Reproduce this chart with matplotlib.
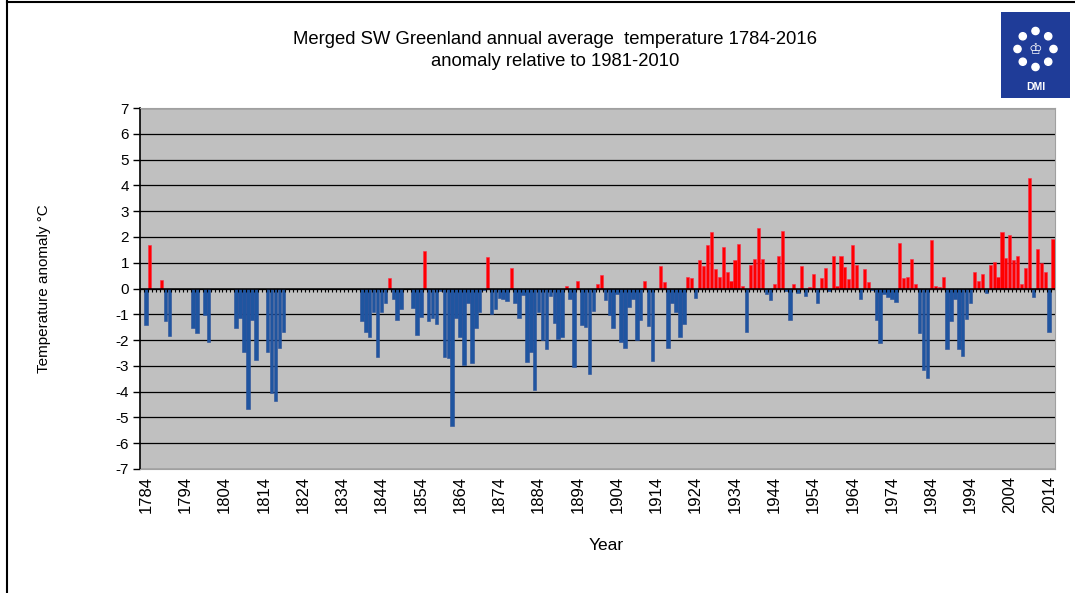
import numpy as np
import matplotlib
matplotlib.use('Agg')
import matplotlib.pyplot as plt
import matplotlib.transforms as mtransforms
from matplotlib.patches import Circle
from matplotlib.lines import Line2D

plt.rcParams['font.family'] = ['Liberation Sans', 'DejaVu Sans']
plt.rcParams['axes.unicode_minus'] = False

nan = np.nan

# annual temperature anomaly (deg C); nan = no data
anom_1784_1820 = [nan, -1.40, 1.68, nan, nan, 0.32, -1.26, -1.85, nan, nan,
                  nan, nan, nan, -1.52, -1.74, nan, -1.03, -2.06, nan, nan,
                  nan, nan, nan, nan, -1.52, -1.16, -2.48, -4.68, -1.23, -2.77,
                  nan, nan, -2.48, -4.06, -4.35, -2.30, -1.68]
anom_1821_1839 = [nan, nan, nan, nan, nan, nan, nan, nan, nan, nan,
                  nan, nan, nan, nan, nan, nan, nan, nan, nan]
anom_1840_1899 = [-1.26, -1.68, -1.90, -0.90, -2.65, -0.90, -0.58, 0.41, -0.39, -1.23,
                  -0.80, nan, nan, -0.75, -1.80, -1.10, 1.45, -1.26, -1.16, -1.39,
                  -0.10, -2.65, -2.70, -5.35, -1.13, -1.87, -2.97, -0.58, -2.90, -1.55,
                  -0.90, -0.05, 1.21, -1.00, -0.80, -0.36, -0.39, -0.49, 0.80, -0.58,
                  -1.16, -0.26, -2.84, -2.45, -3.94, -0.90, -2.00, -2.35, -0.30, -1.35,
                  -1.94, -1.87, 0.09, -0.39, -3.03, 0.31, -1.42, -1.48, -3.33, -0.86]
anom_1900_1949 = [0.19, 0.54, -0.45, -1.03, -1.55, -0.23, -2.06, -2.30, -0.71, -0.39,
                  -2.00, -1.23, 0.31, -1.45, -2.81, nan, 0.88, 0.26, -2.32, -0.58,
                  -0.90, -1.87, -1.39, 0.45, 0.41, -0.36, 1.10, 0.88, 1.68, 2.19,
                  0.75, 0.45, 1.61, 0.65, 0.28, 1.10, 1.74, 0.10, -1.68, 0.93,
                  1.14, 2.35, 1.14, -0.23, -0.45, 0.19, 1.26, 2.23, -0.10, -1.23]
anom_1950_2016 = [0.19, -0.19, 0.88, -0.28, 0.05, 0.58, -0.58, 0.41, 0.80, -0.10,
                  1.26, 0.10, 1.26, 0.84, 0.36, 1.68, 0.93, -0.41, 0.75, 0.26,
                  -0.05, -1.23, -2.13, -0.23, -0.32, -0.40, -0.52, 1.78, 0.41, 0.45,
                  1.16, 0.19, -1.74, -3.16, -3.48, 1.87, 0.10, 0.05, 0.45, -2.35,
                  -1.26, -0.39, -2.35, -2.62, -1.19, -0.58, 0.65, 0.28, 0.58, -0.19,
                  0.90, 1.03, 0.45, 2.19, 1.19, 2.09, 1.10, 1.26, 0.19, 0.80,
                  4.28, -0.32, 1.55, 0.99, 0.65, -1.68, 1.91]

years = np.arange(1784, 2017)
anom = np.array(anom_1784_1820 + anom_1821_1839 + anom_1840_1899
                + anom_1900_1949 + anom_1950_2016)

label_years = np.arange(1784, 2015, 10)

# figure
W, H = 1075, 593
fig = plt.figure(figsize=(W / 100, H / 100), dpi=100)
ax = fig.add_axes([140 / W, 1 - 469 / H, 915 / W, 361 / H])
ax.set_facecolor('#c0c0c0')

ok = ~np.isnan(anom)
pos = ok & (anom >= 0)
neg = ok & (anom < 0)
ax.bar(years[pos], anom[pos], width=0.8, color='#ff0000', edgecolor='#ff2a4a',
       linewidth=0.4, zorder=2)
ax.bar(years[neg], anom[neg], width=0.9, color='#1f55a0', edgecolor='#2a4f9a',
       linewidth=0.4, zorder=2)

# zero line with yearly tick marks
ax.axhline(0, color='black', lw=1.1, zorder=3)
ax.vlines(np.arange(1783.5, 2017), -0.12, 0, color='black', lw=0.8, zorder=3)

ax.set_xlim(1783.5, 2016.5)
ax.set_ylim(-7, 7)
ax.set_yticks(range(-7, 8))
ax.yaxis.grid(True, color='black', lw=0.9, zorder=1)
ax.set_axisbelow(True)
ax.tick_params(axis='y', direction='out', length=5, width=1, labelsize=11, pad=3)

ax.set_xticks(label_years)
ax.set_xticklabels([str(y) for y in label_years], rotation=90, fontsize=12)
ax.tick_params(axis='x', length=0, pad=5)
shift = mtransforms.ScaledTranslation(4 / 100, 0, fig.dpi_scale_trans)
for lab in ax.get_xticklabels():
    lab.set_transform(lab.get_transform() + shift)

for s in ['top', 'right', 'bottom']:
    ax.spines[s].set_color('#a0a0a0')
ax.spines['left'].set_color('black')
ax.spines['left'].set_linewidth(1.2)

ax.set_ylabel('Temperature anomaly °C', fontsize=11)
ax.yaxis.set_label_coords(-0.097, 0.5)
ax.set_xlabel('Year', fontsize=12.5)
ax.xaxis.set_label_coords(0.51, -0.19)

fig.text(555 / W, 1 - 40 / H, 'Merged SW Greenland annual average  temperature 1784-2016',
         ha='center', va='center', fontsize=13.3)
fig.text(555 / W, 1 - 62 / H, 'anomaly relative to 1981-2010',
         ha='center', va='center', fontsize=13.3)

# outer frame (left and top)
fig.add_artist(Line2D([7 / W, 7 / W], [0, 1 - 1 / H], transform=fig.transFigure,
                      color='black', lw=1.5))
fig.add_artist(Line2D([7 / W, 1], [1 - 1.5 / H, 1 - 1.5 / H], transform=fig.transFigure,
                      color='black', lw=1.5))

# DMI logo
lax = fig.add_axes([1001 / W, 1 - 98 / H, 69 / W, 86 / H])
lax.set_xlim(0, 69)
lax.set_ylim(86, 0)
lax.set_facecolor('#1f3c98')
lax.set_xticks([])
lax.set_yticks([])
for s in lax.spines.values():
    s.set_visible(False)
cx, cy, r = 34.5, 37, 18
for k in range(8):
    a = np.pi / 2 + k * np.pi / 4
    lax.add_patch(Circle((cx + r * np.cos(a), cy - r * np.sin(a)), 3.6, color='white'))
lax.text(cx, cy + 1, '\u2654', ha='center', va='center', color='white', fontsize=11,
         family='DejaVu Sans')
lax.text(cx, 75, 'DMI', ha='center', va='center', color='white', fontsize=7.5,
         fontweight='bold')

fig.savefig('out.png', dpi=100)
